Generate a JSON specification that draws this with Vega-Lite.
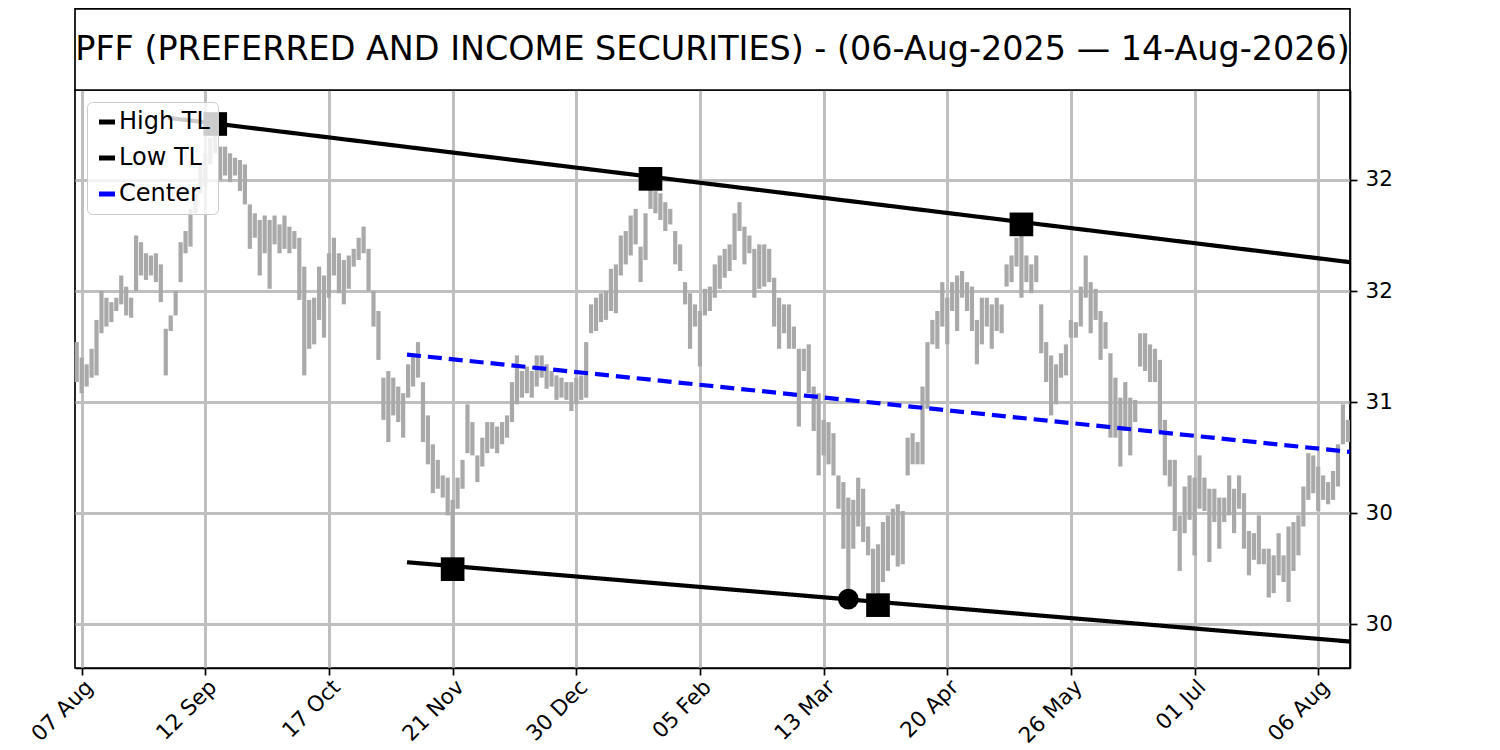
{
  "$schema": "https://vega.github.io/schema/vega-lite/v6.json",
  "description": "PFF price bars with high, low and center trend lines",
  "autosize": {"type": "none"},
  "padding": {"left": 75, "top": 90, "right": 150, "bottom": 82},
  "width": 1275,
  "height": 578,
  "background": "white",
  "view": {"stroke": "black", "strokeWidth": 1.7},
  "config": {
    "font": "DejaVu Sans",
    "axis": {
      "labelFont": "DejaVu Sans",
      "labelFontSize": 21.5,
      "labelColor": "black",
      "tickColor": "black",
      "tickWidth": 1.7,
      "tickSize": 7,
      "domainColor": "black",
      "domainWidth": 1.7,
      "gridColor": "#bfbfbf",
      "gridWidth": 3,
      "gridOpacity": 1,
      "labelOverlap": false,
      "labelFlush": false
    },
    "legend": {
      "orient": "top-left",
      "offset": 12,
      "padding": 8,
      "fillColor": "rgba(255,255,255,0.8)",
      "strokeColor": "#cccccc",
      "cornerRadius": 5,
      "labelFont": "DejaVu Sans",
      "labelFontSize": 24,
      "labelColor": "black",
      "labelOffset": 0,
      "rowPadding": 12,
      "symbolType": "stroke",
      "symbolStrokeWidth": 5,
      "symbolSize": 256
    }
  },
  "datasets": {
    "bars": [
      {"i":0,"lo":31.09,"hi":31.27},{"i":1,"lo":31.04,"hi":31.20},{"i":2,"lo":31.07,"hi":31.17},{"i":3,"lo":31.11,"hi":31.24},
      {"i":4,"lo":31.12,"hi":31.37},{"i":5,"lo":31.31,"hi":31.50},{"i":6,"lo":31.34,"hi":31.47},{"i":7,"lo":31.36,"hi":31.45},
      {"i":8,"lo":31.41,"hi":31.47},{"i":9,"lo":31.44,"hi":31.57},{"i":10,"lo":31.39,"hi":31.52},{"i":11,"lo":31.38,"hi":31.47},
      {"i":12,"lo":31.50,"hi":31.75},{"i":13,"lo":31.57,"hi":31.72},{"i":14,"lo":31.55,"hi":31.67},{"i":15,"lo":31.57,"hi":31.66},
      {"i":16,"lo":31.54,"hi":31.67},{"i":17,"lo":31.45,"hi":31.62},{"i":18,"lo":31.12,"hi":31.33},{"i":19,"lo":31.32,"hi":31.39},
      {"i":20,"lo":31.39,"hi":31.50},{"i":21,"lo":31.54,"hi":31.72},{"i":22,"lo":31.67,"hi":31.77},{"i":23,"lo":31.70,"hi":31.87},
      {"i":24,"lo":31.85,"hi":31.94},{"i":25,"lo":31.94,"hi":32.07},{"i":26,"lo":31.97,"hi":32.12},{"i":27,"lo":32.07,"hi":32.19},
      {"i":28,"lo":32.12,"hi":32.25},{"i":29,"lo":32.00,"hi":32.15},{"i":30,"lo":32.02,"hi":32.15},{"i":31,"lo":31.99,"hi":32.12},
      {"i":32,"lo":32.02,"hi":32.10},{"i":33,"lo":31.95,"hi":32.09},{"i":34,"lo":31.89,"hi":32.07},{"i":35,"lo":31.69,"hi":31.89},
      {"i":36,"lo":31.74,"hi":31.85},{"i":37,"lo":31.57,"hi":31.82},{"i":38,"lo":31.67,"hi":31.84},{"i":39,"lo":31.51,"hi":31.82},
      {"i":40,"lo":31.71,"hi":31.84},{"i":41,"lo":31.67,"hi":31.80},{"i":42,"lo":31.69,"hi":31.84},{"i":43,"lo":31.67,"hi":31.79},
      {"i":44,"lo":31.69,"hi":31.77},{"i":45,"lo":31.46,"hi":31.74},{"i":46,"lo":31.12,"hi":31.61},{"i":47,"lo":31.24,"hi":31.46},
      {"i":48,"lo":31.26,"hi":31.47},{"i":49,"lo":31.37,"hi":31.61},{"i":50,"lo":31.29,"hi":31.57},{"i":51,"lo":31.47,"hi":31.67},
      {"i":52,"lo":31.57,"hi":31.74},{"i":53,"lo":31.49,"hi":31.67},{"i":54,"lo":31.44,"hi":31.64},{"i":55,"lo":31.51,"hi":31.66},
      {"i":56,"lo":31.61,"hi":31.69},{"i":57,"lo":31.64,"hi":31.74},{"i":58,"lo":31.67,"hi":31.79},{"i":59,"lo":31.50,"hi":31.69},
      {"i":60,"lo":31.34,"hi":31.50},{"i":61,"lo":31.19,"hi":31.41},{"i":62,"lo":30.92,"hi":31.11},{"i":63,"lo":30.82,"hi":31.14},
      {"i":64,"lo":30.94,"hi":31.11},{"i":65,"lo":30.91,"hi":31.07},{"i":66,"lo":30.84,"hi":31.04},{"i":67,"lo":31.02,"hi":31.17},
      {"i":68,"lo":31.07,"hi":31.21},{"i":69,"lo":31.11,"hi":31.27},{"i":70,"lo":30.82,"hi":31.09},{"i":71,"lo":30.72,"hi":30.94},
      {"i":72,"lo":30.59,"hi":30.81},{"i":73,"lo":30.61,"hi":30.74},{"i":74,"lo":30.57,"hi":30.67},{"i":75,"lo":30.49,"hi":30.66},
      {"i":76,"lo":30.25,"hi":30.56},{"i":77,"lo":30.52,"hi":30.66},{"i":78,"lo":30.61,"hi":30.74},{"i":79,"lo":30.77,"hi":30.99},
      {"i":80,"lo":30.76,"hi":30.91},{"i":81,"lo":30.64,"hi":30.76},{"i":82,"lo":30.71,"hi":30.84},{"i":83,"lo":30.77,"hi":30.91},
      {"i":84,"lo":30.79,"hi":30.91},{"i":85,"lo":30.77,"hi":30.89},{"i":86,"lo":30.81,"hi":30.91},{"i":87,"lo":30.84,"hi":30.94},
      {"i":88,"lo":30.91,"hi":31.09},{"i":89,"lo":30.99,"hi":31.21},{"i":90,"lo":31.02,"hi":31.14},{"i":91,"lo":31.04,"hi":31.16},
      {"i":92,"lo":31.02,"hi":31.14},{"i":93,"lo":31.07,"hi":31.21},{"i":94,"lo":31.11,"hi":31.21},{"i":95,"lo":31.06,"hi":31.17},
      {"i":96,"lo":31.07,"hi":31.14},{"i":97,"lo":31.01,"hi":31.12},{"i":98,"lo":31.02,"hi":31.11},{"i":99,"lo":31.01,"hi":31.09},
      {"i":100,"lo":30.96,"hi":31.09},{"i":101,"lo":30.99,"hi":31.11},{"i":102,"lo":31.01,"hi":31.12},{"i":103,"lo":31.02,"hi":31.27},
      {"i":104,"lo":31.31,"hi":31.44},{"i":105,"lo":31.32,"hi":31.47},{"i":106,"lo":31.36,"hi":31.49},{"i":107,"lo":31.37,"hi":31.50},
      {"i":108,"lo":31.41,"hi":31.60},{"i":109,"lo":31.40,"hi":31.62},{"i":110,"lo":31.57,"hi":31.75},{"i":111,"lo":31.62,"hi":31.77},
      {"i":112,"lo":31.66,"hi":31.84},{"i":113,"lo":31.71,"hi":31.87},{"i":114,"lo":31.54,"hi":31.70},{"i":115,"lo":31.64,"hi":31.85},
      {"i":116,"lo":31.87,"hi":32.00},{"i":117,"lo":31.85,"hi":31.95},{"i":118,"lo":31.82,"hi":31.94},{"i":119,"lo":31.77,"hi":31.90},
      {"i":120,"lo":31.80,"hi":31.87},{"i":121,"lo":31.62,"hi":31.77},{"i":122,"lo":31.59,"hi":31.71},{"i":123,"lo":31.44,"hi":31.54},
      {"i":124,"lo":31.24,"hi":31.49},{"i":125,"lo":31.34,"hi":31.44},{"i":126,"lo":31.16,"hi":31.41},{"i":127,"lo":31.39,"hi":31.51},
      {"i":128,"lo":31.41,"hi":31.52},{"i":129,"lo":31.47,"hi":31.62},{"i":130,"lo":31.51,"hi":31.66},{"i":131,"lo":31.56,"hi":31.69},
      {"i":132,"lo":31.59,"hi":31.71},{"i":133,"lo":31.64,"hi":31.85},{"i":134,"lo":31.77,"hi":31.90},{"i":135,"lo":31.62,"hi":31.79},
      {"i":136,"lo":31.67,"hi":31.75},{"i":137,"lo":31.47,"hi":31.69},{"i":138,"lo":31.51,"hi":31.71},{"i":139,"lo":31.52,"hi":31.71},
      {"i":140,"lo":31.54,"hi":31.69},{"i":141,"lo":31.34,"hi":31.56},{"i":142,"lo":31.24,"hi":31.47},{"i":143,"lo":31.31,"hi":31.44},
      {"i":144,"lo":31.24,"hi":31.44},{"i":145,"lo":31.24,"hi":31.34},{"i":146,"lo":30.89,"hi":31.24},{"i":147,"lo":31.14,"hi":31.24},
      {"i":148,"lo":31.04,"hi":31.26},{"i":149,"lo":30.87,"hi":31.07},{"i":150,"lo":30.67,"hi":31.04},{"i":151,"lo":30.76,"hi":30.92},
      {"i":152,"lo":30.72,"hi":30.91},{"i":153,"lo":30.67,"hi":30.86},{"i":154,"lo":30.52,"hi":30.67},{"i":155,"lo":30.34,"hi":30.64},
      {"i":156,"lo":30.11,"hi":30.57},{"i":157,"lo":30.34,"hi":30.56},{"i":158,"lo":30.44,"hi":30.66},{"i":159,"lo":30.37,"hi":30.61},
      {"i":160,"lo":30.31,"hi":30.44},{"i":161,"lo":30.14,"hi":30.34},{"i":162,"lo":30.09,"hi":30.36},{"i":163,"lo":30.19,"hi":30.46},
      {"i":164,"lo":30.24,"hi":30.49},{"i":165,"lo":30.31,"hi":30.52},{"i":166,"lo":30.26,"hi":30.54},{"i":167,"lo":30.27,"hi":30.51},
      {"i":168,"lo":30.67,"hi":30.84},{"i":169,"lo":30.72,"hi":30.86},{"i":170,"lo":30.72,"hi":30.82},{"i":171,"lo":30.72,"hi":31.07},
      {"i":172,"lo":30.97,"hi":31.27},{"i":173,"lo":31.26,"hi":31.37},{"i":174,"lo":31.24,"hi":31.41},{"i":175,"lo":31.34,"hi":31.54},
      {"i":176,"lo":31.26,"hi":31.47},{"i":177,"lo":31.41,"hi":31.54},{"i":178,"lo":31.32,"hi":31.57},{"i":179,"lo":31.47,"hi":31.59},
      {"i":180,"lo":31.41,"hi":31.54},{"i":181,"lo":31.32,"hi":31.52},{"i":182,"lo":31.17,"hi":31.37},{"i":183,"lo":31.26,"hi":31.47},
      {"i":184,"lo":31.34,"hi":31.47},{"i":185,"lo":31.24,"hi":31.44},{"i":186,"lo":31.32,"hi":31.47},{"i":187,"lo":31.31,"hi":31.44},
      {"i":188,"lo":31.52,"hi":31.62},{"i":189,"lo":31.54,"hi":31.66},{"i":190,"lo":31.61,"hi":31.74},{"i":191,"lo":31.47,"hi":31.78},
      {"i":192,"lo":31.54,"hi":31.66},{"i":193,"lo":31.49,"hi":31.62},{"i":194,"lo":31.54,"hi":31.66},{"i":195,"lo":31.22,"hi":31.44},
      {"i":196,"lo":31.09,"hi":31.27},{"i":197,"lo":30.94,"hi":31.21},{"i":198,"lo":30.99,"hi":31.17},{"i":199,"lo":31.11,"hi":31.22},
      {"i":200,"lo":31.12,"hi":31.26},{"i":201,"lo":31.29,"hi":31.37},{"i":202,"lo":31.29,"hi":31.36},{"i":203,"lo":31.34,"hi":31.52},
      {"i":204,"lo":31.47,"hi":31.66},{"i":205,"lo":31.31,"hi":31.54},{"i":206,"lo":31.37,"hi":31.51},{"i":207,"lo":31.19,"hi":31.41},
      {"i":208,"lo":31.24,"hi":31.36},{"i":209,"lo":30.84,"hi":31.22},{"i":210,"lo":30.84,"hi":31.11},{"i":211,"lo":30.71,"hi":31.02},
      {"i":212,"lo":30.87,"hi":31.09},{"i":213,"lo":30.76,"hi":31.02},{"i":214,"lo":30.91,"hi":31.01},{"i":215,"lo":31.16,"hi":31.31},
      {"i":216,"lo":31.14,"hi":31.31},{"i":217,"lo":31.09,"hi":31.26},{"i":218,"lo":31.09,"hi":31.24},{"i":219,"lo":30.86,"hi":31.19},
      {"i":220,"lo":30.67,"hi":30.92},{"i":221,"lo":30.62,"hi":30.74},{"i":222,"lo":30.42,"hi":30.74},{"i":223,"lo":30.24,"hi":30.49},
      {"i":224,"lo":30.41,"hi":30.62},{"i":225,"lo":30.47,"hi":30.67},{"i":226,"lo":30.31,"hi":30.66},{"i":227,"lo":30.52,"hi":30.76},
      {"i":228,"lo":30.51,"hi":30.66},{"i":229,"lo":30.28,"hi":30.61},{"i":230,"lo":30.46,"hi":30.61},{"i":231,"lo":30.34,"hi":30.57},
      {"i":232,"lo":30.46,"hi":30.57},{"i":233,"lo":30.49,"hi":30.67},{"i":234,"lo":30.41,"hi":30.61},{"i":235,"lo":30.52,"hi":30.67},
      {"i":236,"lo":30.34,"hi":30.59},{"i":237,"lo":30.22,"hi":30.42},{"i":238,"lo":30.29,"hi":30.41},{"i":239,"lo":30.27,"hi":30.49},
      {"i":240,"lo":30.27,"hi":30.34},{"i":241,"lo":30.12,"hi":30.34},{"i":242,"lo":30.14,"hi":30.31},{"i":243,"lo":30.22,"hi":30.41},
      {"i":244,"lo":30.19,"hi":30.31},{"i":245,"lo":30.10,"hi":30.44},{"i":246,"lo":30.24,"hi":30.46},{"i":247,"lo":30.31,"hi":30.49},
      {"i":248,"lo":30.44,"hi":30.62},{"i":249,"lo":30.56,"hi":30.77},{"i":250,"lo":30.59,"hi":30.76},{"i":251,"lo":30.51,"hi":30.71},
      {"i":252,"lo":30.56,"hi":30.67},{"i":253,"lo":30.54,"hi":30.64},{"i":254,"lo":30.56,"hi":30.69},{"i":255,"lo":30.62,"hi":30.81},
      {"i":256,"lo":30.81,"hi":30.99},{"i":257,"lo":30.82,"hi":30.92}
    ],
    "lines": [
      {"series": "High TL", "style": "solid", "i": 18.45, "v": 32.28},
      {"series": "High TL", "style": "solid", "i": 257.43, "v": 31.63},
      {"series": "Low TL", "style": "solid", "i": 66.77, "v": 30.279},
      {"series": "Low TL", "style": "solid", "i": 257.43, "v": 29.922},
      {"series": "Center", "style": "dashed", "i": 66.77, "v": 31.214},
      {"series": "Center", "style": "dashed", "i": 257.43, "v": 30.776}
    ],
    "pivots": [
      {"i": 28, "v": 32.252, "kind": "square"},
      {"i": 116, "v": 32.005, "kind": "square"},
      {"i": 191, "v": 31.80, "kind": "square"},
      {"i": 76, "v": 30.248, "kind": "square"},
      {"i": 162, "v": 30.086, "kind": "square"},
      {"i": 156, "v": 30.113, "kind": "circle"}
    ],
    "header": [
      {"x0": -0.35, "x1": 257.43, "xm": 128.54, "y0": 32.405, "y1": 32.77, "ym": 32.583,
       "t": "PFF (PREFERRED AND INCOME SECURITIES) - (06-Aug-2025 — 14-Aug-2026)"}
    ]
  },
  "layer": [
    {
      "data": {"name": "bars"},
      "mark": {"type": "rule", "color": "#a9a9a9", "strokeWidth": 4.2},
      "encoding": {
        "x": {
          "field": "i",
          "type": "quantitative",
          "title": null,
          "scale": {"domain": [-0.35, 257.43], "nice": false, "zero": false},
          "axis": {
            "orient": "bottom",
            "values": [1, 26, 51, 76, 101, 126, 151, 176, 201, 226, 251],
            "labelExpr": "['07 Aug','12 Sep','17 Oct','21 Nov','30 Dec','05 Feb','13 Mar','20 Apr','26 May','01 Jul','06 Aug'][round((datum.value - 1) / 25)]",
            "labelAngle": -45,
            "labelAlign": "right",
            "labelBaseline": "top",
            "labelPadding": 1,
            "grid": true
          }
        },
        "y": {
          "field": "lo",
          "type": "quantitative",
          "title": null,
          "scale": {"domain": [29.803, 32.405], "nice": false, "zero": false},
          "axis": {
            "orient": "right",
            "values": [30, 30.5, 31, 31.5, 32],
            "labelExpr": "datum.value == 30.5 ? '30' : format(datum.value, '.0f')",
            "labelPadding": 8,
            "grid": true
          }
        },
        "y2": {"field": "hi"}
      }
    },
    {
      "data": {"name": "lines"},
      "mark": {"type": "line", "strokeWidth": 4.2},
      "encoding": {
        "x": {"field": "i", "type": "quantitative", "title": null},
        "y": {"field": "v", "type": "quantitative", "title": null},
        "detail": {"field": "series"},
        "color": {
          "field": "series",
          "type": "nominal",
          "scale": {"domain": ["High TL", "Low TL", "Center"], "range": ["black", "black", "blue"]},
          "sort": ["High TL", "Low TL", "Center"],
          "legend": {"title": null}
        },
        "strokeDash": {
          "field": "style",
          "type": "nominal",
          "scale": {"domain": ["solid", "dashed"], "range": [[1, 0], [14, 7]]},
          "legend": null
        }
      }
    },
    {
      "data": {"name": "pivots"},
      "mark": {"type": "point", "filled": true, "opacity": 1, "color": "black"},
      "encoding": {
        "x": {"field": "i", "type": "quantitative", "title": null},
        "y": {"field": "v", "type": "quantitative", "title": null},
        "shape": {
          "field": "kind",
          "type": "nominal",
          "scale": {"domain": ["square", "circle"], "range": ["square", "circle"]},
          "legend": null
        },
        "size": {
          "field": "kind",
          "type": "nominal",
          "scale": {"domain": ["square", "circle"], "range": [560, 430]},
          "legend": null
        }
      }
    },
    {
      "data": {"name": "header"},
      "mark": {"type": "rect", "fill": "white", "stroke": "black", "strokeWidth": 1.7, "clip": false},
      "encoding": {
        "x": {"field": "x0", "type": "quantitative", "title": null},
        "x2": {"field": "x1"},
        "y": {"field": "y0", "type": "quantitative", "title": null},
        "y2": {"field": "y1"}
      }
    },
    {
      "data": {"name": "header"},
      "mark": {"type": "text", "font": "DejaVu Sans", "fontSize": 33.4, "align": "center", "baseline": "middle", "color": "black", "clip": false},
      "encoding": {
        "x": {"field": "xm", "type": "quantitative", "title": null},
        "y": {"field": "ym", "type": "quantitative", "title": null},
        "text": {"field": "t"}
      }
    }
  ]
}
